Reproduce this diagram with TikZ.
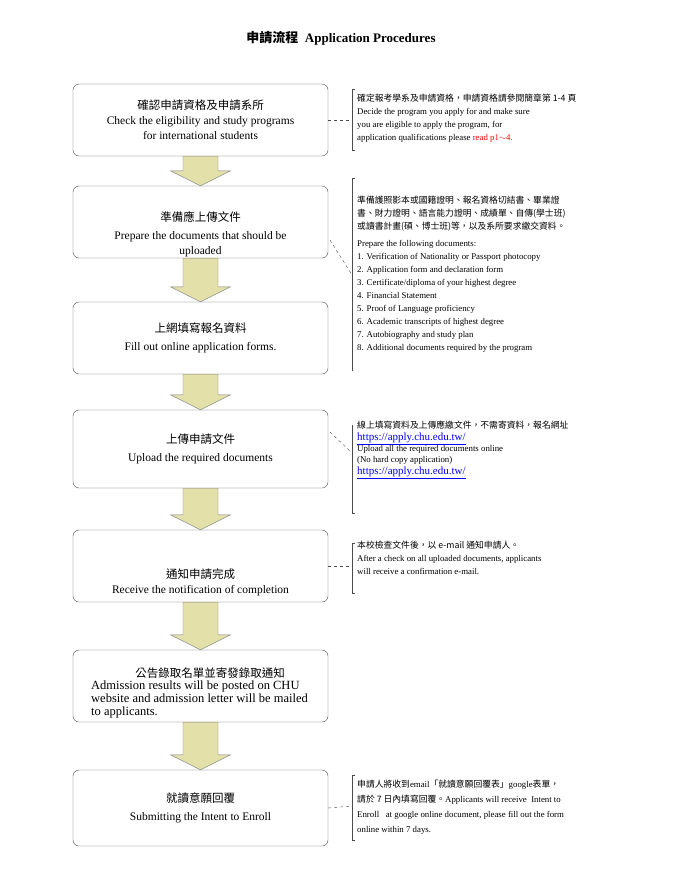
\documentclass[tikz,border=0pt]{standalone}
\usepackage{fontspec}
\setmainfont{Liberation Serif}
\newfontfamily\cjk{Noto Sans CJK TC}
\usetikzlibrary{positioning,calc}

\tikzset{
  stepbox/.style={draw=black!70,rounded corners=6pt,minimum width=255pt,minimum height=72pt,align=center,font=\fontsize{11.5}{15}\selectfont},
  bigarrow/.style={draw=black!50,fill=olive!25!white},
  notebracket/.style={draw=black!70,line width=.5pt},
  notetext/.style={anchor=north west,align=left,inner sep=0pt,font=\fontsize{8.8}{13}\selectfont},
  tie/.style={dashed,draw=black!70}
}

\begin{document}
\begin{tikzpicture}[x=1pt,y=-1pt]
  \useasboundingbox (0,0) rectangle (682,881);

  \node[font=\bfseries\fontsize{13}{15}\selectfont] (title) at (341,38) {{\cjk 申請流程}\ \ Application Procedures};

  % steps
  \node[stepbox] (s1) at (200.5,120) {{\cjk 確認申請資格及申請系所}\\Check the eligibility and study programs\\for international students};
  \node[stepbox] (s2) at (200.5,222) {};
  \node at (200.5,217) {\fontsize{11.5}{15}\selectfont\cjk 準備應上傳文件};
  \node[align=center,font=\fontsize{11.5}{15}\selectfont] at (200.5,244.5) {Prepare the documents that should be\\uploaded};
  \node[stepbox] (s3) at (200.5,338) {{\cjk 上網填寫報名資料}\\[3pt]Fill out online application forms.};
  \node[stepbox,minimum height=78pt] (s4) at (200.5,449) {{\cjk 上傳申請文件}\\[3pt]Upload the required documents};
  \node[stepbox] (s5) at (200.5,566) {};
  \node[align=center,font=\fontsize{11.5}{15}\selectfont] at (200.5,582) {{\cjk 通知申請完成}\\Receive the notification of completion};
  \node[stepbox] (s6) at (200.5,686) {};
  \node[anchor=north,font=\fontsize{11.5}{15}\selectfont] at (210,664) {\cjk 公告錄取名單並寄發錄取通知};
  \node[anchor=north west,align=left,inner sep=0pt,font=\fontsize{12.5}{13}\selectfont] at (91,681) {Admission results will be posted on CHU\\website and admission letter will be mailed\\to applicants.};
  \node[stepbox,minimum height=76pt] (s7) at (200.5,808) {{\cjk 就讀意願回覆}\\[3pt]Submitting the Intent to Enroll};

  % arrows between steps
  \foreach \from/\to in {s1/s2,s2/s3,s3/s4,s4/s5,s5/s6,s6/s7}
    \draw[bigarrow] let \p1=(\from.south), \p2=(\to.north) in
      (\x1-17.5pt,\y1) -- (\x1+17.5pt,\y1) -- (\x1+17.5pt,\y2+15pt) -- (\x1+30pt,\y2+15pt)
      -- (\x1,\y2) -- (\x1-30pt,\y2+15pt) -- (\x1-17.5pt,\y2+15pt) -- cycle;

  % notes
  \draw[notebracket] (355,89) -- (352,89) -- (352,150) -- (355,150);
  \draw[tie] (s1.east) -- (352,120);
  \node[notetext] (n1) at (357,94) {{\cjk 確定報考學系及申請資格，申請資格請參閱簡章第 1-4 頁}\\Decide the program you apply for and make sure\\you are eligible to apply the program, for\\application qualifications please \textcolor{red}{read p1$\sim$4.}};

  \draw[notebracket] (355,178) -- (352,178) -- (352,371);
  \draw[tie] (330,240) -- (352,275);
  \node[notetext] (n2) at (357,196) {{\cjk 準備護照影本或國籍證明、報名資格切結書、畢業證}\\{\cjk 書、財力證明、語言能力證明、成績單、自傳(學士班)}\\{\cjk 或讀書計畫(碩、博士班)等，以及系所要求繳交資料。}\\[4pt]Prepare the following documents:\\1. Verification of Nationality or Passport photocopy\\2. Application form and declaration form\\3. Certificate/diploma of your highest degree\\4. Financial Statement\\5. Proof of Language proficiency\\6. Academic transcripts of highest degree\\7. Autobiography and study plan\\8. Additional documents required by the program};

  \draw[notebracket] (352,425) -- (352,513) -- (355,513);
  \draw[tie] (330,432) -- (351,452);
  \node[notetext] (n3) at (357,421) {{\cjk 線上填寫資料及上傳應繳文件，不需寄資料，報名網址}\\[-1pt]\textcolor{blue}{\fontsize{11}{11}\selectfont\underline{https://apply.chu.edu.tw/}}\\[-2pt]Upload all the required documents online\\[-2pt](No hard copy application)\\[-1pt]\textcolor{blue}{\fontsize{11}{11}\selectfont\underline{https://apply.chu.edu.tw/}}};

  \draw[notebracket] (355,543) -- (352,543) -- (352,593) -- (355,593);
  \draw[tie] (s5.east) -- (352,566);
  \node[notetext] (n4) at (357,541) {{\cjk 本校檢查文件後，以 e-mail 通知申請人。}\\After a check on all uploaded documents, applicants\\will receive a confirmation e-mail.};

  \draw[notebracket] (355,775) -- (352,775) -- (352,840) -- (355,840);
  \draw[tie] (s7.east) -- (352,806);
  \node[notetext,font=\fontsize{8.8}{15}\selectfont] (n5) at (357,780) {{\cjk 申請人將收到}email{\cjk 「就讀意願回覆表」}google{\cjk 表單，}\\{\cjk 請於 7 日內填寫回覆。}Applicants will receive \ Intent to\\Enroll \ \ at google online document, please fill out the form\\online within 7 days.};
\end{tikzpicture}
\end{document}
